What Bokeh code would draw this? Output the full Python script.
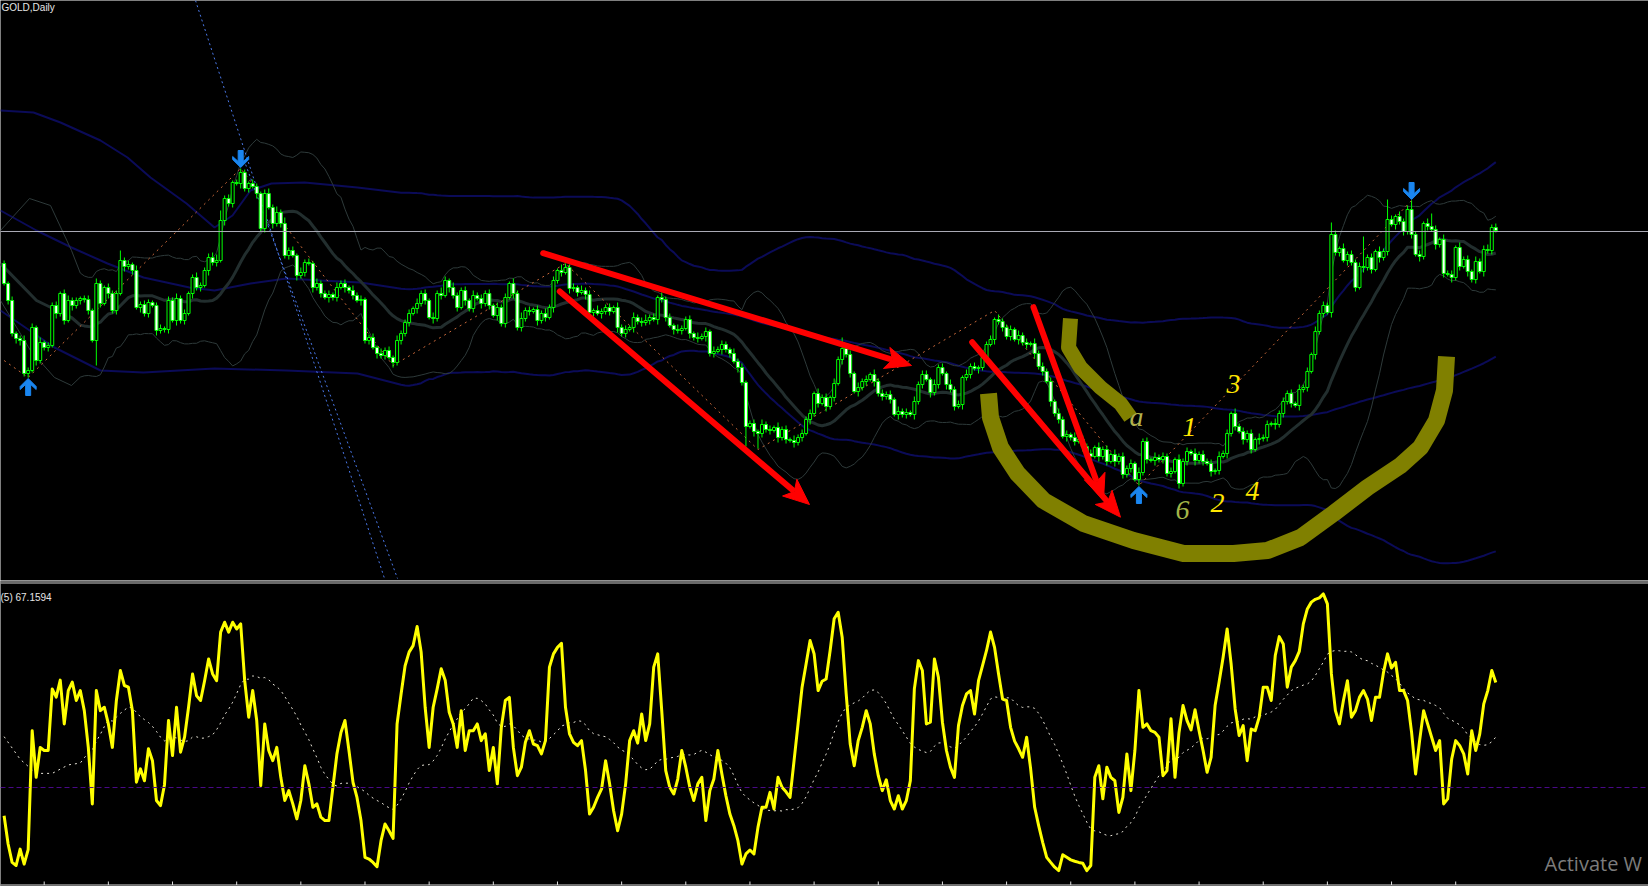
import numpy as np
import pandas as pd
from bokeh.plotting import figure
from bokeh.layouts import column
from bokeh.models import Range1d, Span
from bokeh.core.properties import value
from bokeh.embed import file_html
from bokeh.resources import INLINE

# ---------------- data (GOLD, Daily) ----------------
OPEN0 = 1837
CLOSE = [
 1817,1800,1767,1762,1760,1727,1730,1773,1740,1758,
 1753,1755,1795,1787,1807,1780,1800,1795,1800,1802,
 1801,1790,1760,1817,1797,1813,1807,1790,1807,1840,
 1834,1836,1830,1793,1796,1787,1798,1795,1770,1772,
 1771,1800,1780,1802,1780,1787,1807,1823,1813,1815,
 1830,1843,1838,1840,1880,1902,1897,1918,1917,1928,
 1912,1917,1914,1907,1872,1907,1893,1877,1888,1877,
 1845,1850,1845,1825,1828,1838,1837,1813,1817,1807,
 1803,1806,1803,1813,1817,1813,1810,1805,1800,1801,
 1760,1763,1753,1747,1745,1750,1743,1738,1760,1767,
 1778,1787,1792,1797,1807,1800,1783,1782,1807,1805,
 1820,1813,1805,1793,1810,1800,1792,1805,1802,1797,
 1807,1795,1785,1793,1777,1803,1817,1807,1773,1782,
 1790,1789,1791,1780,1787,1783,1793,1820,1830,1828,
 1833,1812,1813,1808,1810,1806,1788,1790,1787,1789,
 1793,1789,1793,1773,1767,1771,1773,1783,1779,1778,
 1780,1783,1781,1803,1801,1783,1775,1771,1770,1772,
 1781,1767,1763,1762,1764,1769,1747,1749,1751,1756,
 1751,1747,1739,1733,1718,1674,1677,1669,1667,1676,
 1671,1670,1673,1663,1671,1661,1660,1658,1663,1667,
 1681,1687,1707,1697,1703,1694,1703,1717,1741,1752,
 1746,1727,1709,1713,1719,1721,1726,1719,1707,1704,
 1706,1701,1686,1689,1686,1688,1686,1699,1716,1726,
 1721,1708,1716,1733,1727,1716,1711,1694,1696,1723,
 1726,1734,1732,1733,1743,1756,1761,1781,1779,1773,
 1764,1771,1761,1765,1758,1756,1757,1747,1734,1729,
 1719,1699,1687,1681,1664,1666,1663,1659,1661,1654,
 1647,1644,1653,1644,1651,1639,1646,1639,1644,1626,
 1632,1637,1621,1628,1659,1641,1640,1643,1641,1644,
 1627,1629,1641,1617,1639,1649,1647,1640,1646,1639,
 1637,1629,1630,1644,1647,1667,1687,1674,1669,1661,
 1667,1651,1661,1662,1663,1676,1677,1676,1687,1699,
 1707,1697,1695,1711,1713,1729,1746,1769,1787,1795,
 1788,1866,1848,1852,1840,1846,1838,1813,1834,1833,
 1843,1831,1849,1843,1849,1881,1876,1884,1879,1869,
 1891,1866,1846,1844,1877,1874,1871,1856,1861,1827,
 1826,1823,1853,1834,1841,1829,1821,1839,1829,1851,
 1850,1873,1870]

# wick lengths (one base-36 digit per candle)
WICK_UP = ("3242353425" "2334245332" "342532433a" "3425343234" "2435342353"
           "3456a34234" "3243245363" "6342534253" "3425342534" "2342534253"
           "3425342536" "4253342534" "3425342536" "3424353426" "4342534253"
           "3425342534" "6342534253" "3425342534" "3253423425" "3425342534"
           "342534253b" "3425342534" "3425342534" "4253425342" "5342534253"
           "3425342534" "3425342534" "3425342534" "3425342534" "3425342534"
           "3425342534" "3425342534" "3425342534" "3c4253434u" "34253k4253"
           "493425d425" "3425342534" "534")
WICK_DN = ("2435534253" "3425342534" "342p425342" "5342534253" "3425342534"
           "2534253425" "3425342534" "3425342534" "2534253425" "3425342534"
           "3425342534" "2534253425" "3425342534" "3425342534" "2534253425"
           "3425342534" "3425342534" "2534253425" "34253k25f4" "3425342534"
           "2534253425" "3425342534" "3425342534" "2534253425" "3425342534"
           "3425342534" "2534253425" "3425342534" "3426342534" "3425342534"
           "2534253425" "3425342534" "3425342534" "2534253425" "3425342534"
           "3425342534" "2534253425" "342")

# oscillator (5), one value per candle
OSC = [
 20,10.0,3.5,2.4,8.2,2.9,8,50.1,33.6,44.2,
 43.1,43.1,64.9,62,68,52.5,64.3,67.3,60.8,64.3,
 57.2,44.2,24.2,64.3,57.2,58.4,52.5,44.2,60.8,71.4,
 66.1,65.5,57.2,31.9,36.6,32.4,43.7,39.5,25.4,23.6,
 31,53.7,41.3,58.4,42.5,47.8,58.4,70.2,62.5,60.8,
 67.8,75.5,70.2,67.8,85,88.5,85,88.5,86.1,87.9,
 67.8,54.9,64.3,53.7,30.7,52.5,43.1,39.5,44.2,33.6,
 25.4,28.9,24.2,18.9,25.4,37.7,31.3,23.0,24.2,19.5,
 18.3,18.3,30.1,41.9,49.5,53.7,43.1,31.9,26.5,18.3,
 5.3,4.7,3.5,2.0,11.2,17.1,14.7,12,52.5,63.1,
 73.1,77.9,80.2,87,78,58.4,44.2,58.4,64.9,72,
 68,56.6,52.5,44.2,57.2,43.1,50.1,50.1,52.5,46.6,
 49.0,36.0,44.2,31.3,51.3,60.8,61.9,44.2,34.2,37.2,
 46.0,50.1,45.4,44.8,41.9,46.6,72.6,77.3,79.6,81.0,
 58.4,49.0,46.0,44.8,46.6,36.0,20.6,23.0,26.5,29.5,
 39.5,31.3,21.8,14.7,20.6,31.3,46.6,50.1,45.7,56.0,
 46.6,52.5,72.6,77.3,57.2,36.0,30.1,27.7,33.0,43.1,
 37.2,30.1,25.4,31.3,33.6,18.3,28.9,33.0,43.1,34.8,
 27.1,20.6,16.5,11.2,2.9,6.5,7.9,6.5,15.9,23.0,
 23.0,28.3,22.4,33.6,30.1,28.5,26.5,39.5,52.5,65.5,
 73.7,82.0,77.3,64.3,67.6,68.4,78.5,89.7,92.0,83.2,
 63.1,45.4,37.7,46.6,51.3,57.2,52.5,41.9,34.2,28.9,
 32.7,25.4,22.4,27.1,22.4,25.4,32.4,64.9,74.9,71.4,
 52.5,53.1,75.5,69.0,53.1,43.1,37.2,33.6,51.9,59.0,
 63.1,64.3,56.0,67.8,73.1,78.5,85.0,79.6,70.2,61.3,
 60.8,51.3,46.4,43.7,40.7,47.8,36.6,23.0,16.5,10.6,
 5.3,3.5,1.8,0.6,6.2,5.3,4.4,3.9,3.5,3.2,
 0.6,2.4,33.6,37.7,26.0,37.2,33.6,32.4,21.2,26.5,
 41.9,28.9,43.1,64.3,51.3,52.5,50.1,49.5,47.8,34.2,
 36.0,54.3,33.6,49.5,59.0,53.7,50.4,57.5,50.1,43.1,
 35.4,40.7,59.0,67.3,76.1,86.1,73.7,57.8,48.4,51.9,
 39.5,50.7,50.1,54.9,65.5,65.5,60.8,76.7,83.4,80.8,
 65.5,72.6,74.9,78.2,87.9,93.2,95.6,96.6,97.1,98.5,
 95,70.2,57.2,52.5,60.8,67.8,54.9,57.2,61.9,64.3,
 61.3,53.7,61.9,61.9,70.8,77.3,72.3,74.3,64.3,64.3,
 60.8,49.5,34.8,46.6,57.2,52.5,47.8,43.1,46.6,24.2,
 26.0,40.1,46.6,44.8,41.9,34.8,50.1,43.1,49.0,59.6,
 64.3,71.4,67.16]
# early part of the signal line (before 20 values are available)
SIG_EARLY_IDX = [0, 4, 8, 12, 16]
SIG_EARLY_VAL = [48, 40, 35, 35, 38]
OSC_LEVEL = 30
CURRENT_PRICE = 1869

# zigzag swing points (candle index, price)
ZZ_IDX = [0, 6, 59, 97, 140, 188, 247, 283, 351]
ZZ_PRICE = [1740, 1723, 1932, 1735, 1837, 1651, 1790, 1615, 1900]
# fractal arrows
ARROW_IDX = [6, 59, 283, 351]
ARROW_DIR = ["up", "down", "up", "down"]
# time-axis tick marks every 16 candles
TICK_IDX = list(range(10, 373, 16))

# early part of the long (100) and short (20) bands (screen px)
NAVY_UP_EX = [0, 33, 60, 100, 127, 150, 186, 214, 232, 250, 271, 304, 357]
NAVY_UP_EY = [110, 112, 122, 140, 157, 177, 203, 227, 215, 190, 183, 182, 187]
NAVY_MID_EX = [0, 36, 71, 107, 143, 189, 214, 250, 286, 321, 360]
NAVY_MID_EY = [210, 230, 247, 263, 277, 287, 290, 283, 278, 280, 282]
NAVY_LO_EX = [0, 54, 100, 143, 214, 286, 357]
NAVY_LO_EY = [310, 347, 370, 372, 368, 370, 373]
GRAY_UP_EX = [0, 29, 50, 71]
GRAY_UP_EY = [230, 198, 205, 250]
GRAY_MID_EX = [0, 36, 71]
GRAY_MID_EY = [263, 300, 317]
GRAY_LO_EX = [0, 30, 54, 71]
GRAY_LO_EY = [300, 350, 377, 385]

# hand drawn objects (screen px)
TL_X = [[195, 384], [240, 397]]
TL_Y = [[0, 578], [150, 578]]
RED_START = [(542.7, 252.7), (559.3, 291), (971.7, 341.7), (1033, 306.7)]
RED_TIP = [(911, 365), (809, 504), (1120, 516.7), (1103, 500)]
ARC_BIG_X = [988, 990, 1000, 1017, 1043, 1083, 1133, 1183, 1233, 1267, 1300, 1333, 1367, 1400, 1420, 1436, 1444, 1446]
ARC_BIG_Y = [393, 417, 447, 473, 500, 523, 540, 553, 553, 550, 537, 513, 487, 465, 447, 420, 390, 356]
ARC_SMALL_X = [1070, 1068, 1080, 1100, 1120, 1130]
ARC_SMALL_Y = [318, 347, 367, 387, 403, 417]
LABEL_TEXT = ["a", "1", "3", "2", "4", "6"]
LABEL_X = [1136, 1189, 1233, 1217, 1252, 1182]
LABEL_Y = [416, 426, 383, 502, 490, 509]
LABEL_COLOR = ["#b3b34c", "#ffe600", "#ffe600", "#ffe600", "#ffe600", "#a3b548"]

# ---------------- geometry ----------------
N = len(CLOSE)
X0_PX, XN_PX = 3.6, 1495.3
DX_PX = (XN_PX - X0_PX) / (N - 1)


def fx(xp):
    return (np.asarray(xp, dtype=float) - X0_PX) / DX_PX


def fy(yp):
    return 2100.0 - np.asarray(yp, dtype=float)


def fv(yp):
    return (871.8 - np.asarray(yp, dtype=float)) / 2.826


idx = np.arange(N)
close = np.array(CLOSE, dtype=float)
opn = np.concatenate([[OPEN0], close[:-1]])
wu = np.array([int(c, 36) for c in WICK_UP[:N]], dtype=float)
wl = np.array([int(c, 36) for c in WICK_DN[:N]], dtype=float)
high = np.maximum(opn, close) + wu
low = np.minimum(opn, close) - wl

s = pd.Series(close)
ma20 = s.rolling(20).mean().values
sd20 = s.rolling(20).std(ddof=0).values
ma100 = s.rolling(100).mean().values
sd100 = s.rolling(100).std(ddof=0).values

W = 1648
TOP_H = 580
BOT_H = 306
xr = Range1d(float(fx(0)), float(fx(W)))


def base(h, yr):
    p = figure(width=W, height=h, x_range=xr, y_range=yr, output_backend="svg",
               toolbar_location=None, x_axis_location=None, y_axis_location=None,
               background_fill_color="black", border_fill_color="black",
               min_border=0, outline_line_color=None)
    p.grid.visible = False
    return p


top = base(TOP_H, Range1d(float(fy(TOP_H)), float(fy(0))))

top.add_layout(Span(location=CURRENT_PRICE, dimension="width", line_color="#a9a9b4", line_width=1))


def band(ex, ey, vals, start):
    xs = list(fx(ex)) + list(idx[start:])
    ys = list(fy(ey)) + list(vals[start:])
    return xs, ys


NAVY = "#0b0b58"
for ex, ey, vals in [(NAVY_UP_EX, NAVY_UP_EY, ma100 + 2 * sd100),
                     (NAVY_MID_EX, NAVY_MID_EY, ma100),
                     (NAVY_LO_EX, NAVY_LO_EY, ma100 - 2 * sd100)]:
    xs, ys = band(ex, ey, vals, 99)
    top.line(xs, ys, line_color=NAVY, line_width=2)

xs, ys = band(GRAY_MID_EX, GRAY_MID_EY, ma20, 19)
top.line(xs, ys, line_color="#222e2e", line_width=3)
for ex, ey, vals in [(GRAY_UP_EX, GRAY_UP_EY, ma20 + 2 * sd20),
                     (GRAY_LO_EX, GRAY_LO_EY, ma20 - 2 * sd20)]:
    xs, ys = band(ex, ey, vals, 19)
    top.line(xs, ys, line_color="#2e3a3a", line_width=1)

top.line(ZZ_IDX, ZZ_PRICE, line_color="#c8683a", line_width=1, line_dash="2 4")
top.multi_line([list(fx(x)) for x in TL_X], [list(fy(y)) for y in TL_Y],
               line_color="#4a78e8", line_width=1, line_dash="2 3")

# candles
top.segment(x0=idx, y0=low, x1=idx, y1=high, line_color="#00ff00", line_width=1)
fill = ["black" if c > o else "white" for o, c in zip(opn, close)]
top.vbar(x=idx, top=np.maximum(opn, close), bottom=np.minimum(opn, close), width=0.75,
         fill_color=fill, line_color="#00ff00", line_width=1)

# fractal arrows
SHAPE_DX = [0, 8, 8, 2.5, 2.5, -2.5, -2.5, -8, -8]
SHAPE_DY = [0, 8, 11, 6, 17, 17, 6, 11, 8]
axs, ays = [], []
for i, d in zip(ARROW_IDX, ARROW_DIR):
    if d == "up":
        tip = low[i] - 1
        ays.append([tip - v for v in SHAPE_DY])
    else:
        tip = high[i] + 1
        ays.append([tip + v for v in SHAPE_DY])
    axs.append([i + v / DX_PX for v in SHAPE_DX])
top.patches(axs, ays, fill_color="#1a86f0", line_color="#1a86f0", line_width=1)

# olive arcs
top.line(list(fx(ARC_BIG_X)), list(fy(ARC_BIG_Y)), line_color="#808000", line_width=17,
         line_join="round", line_cap="butt")
top.line(list(fx(ARC_SMALL_X)), list(fy(ARC_SMALL_Y)), line_color="#808000", line_width=15,
         line_join="round", line_cap="butt")

# red arrows
HL, HW = 26.0, 11.0
sx0, sy0, sx1, sy1, hxs, hys = [], [], [], [], [], []
for (sx, sy), (tx, ty) in zip(RED_START, RED_TIP):
    dx, dy = tx - sx, ty - sy
    L = (dx * dx + dy * dy) ** 0.5
    ux, uy = dx / L, dy / L
    nx, ny = -uy, ux
    bx, by = tx - HL * ux, ty - HL * uy
    sx0.append(float(fx(sx))); sy0.append(float(fy(sy)))
    sx1.append(float(fx(bx + 3 * ux))); sy1.append(float(fy(by + 3 * uy)))
    pts = [(tx, ty), (bx + HW * nx, by + HW * ny), (bx + 6 * ux, by + 6 * uy), (bx - HW * nx, by - HW * ny)]
    hxs.append([float(fx(p[0])) for p in pts])
    hys.append([float(fy(p[1])) for p in pts])
top.segment(x0=sx0, y0=sy0, x1=sx1, y1=sy1, line_color="#ff0000", line_width=6, line_cap="round")
top.patches(hxs, hys, fill_color="#ff0000", line_color="#ff0000", line_width=1)

top.text(x=list(fx(LABEL_X)), y=list(fy(LABEL_Y)), text=LABEL_TEXT, text_color=LABEL_COLOR,
         text_font=value("Liberation Serif"), text_font_style="italic", text_font_size="28px",
         text_align="center", text_baseline="middle")

top.text(x=[float(fx(1))], y=[float(fy(1))], text=["GOLD,Daily"], text_color="#e6e6e6",
         text_font=value("Liberation Sans"), text_font_size="10px",
         text_align="left", text_baseline="top")

# ---------------- oscillator panel ----------------
bot = base(BOT_H, Range1d(float(fv(TOP_H + BOT_H)), float(fv(TOP_H))))
bot.add_layout(Span(location=float(fv(580.5)), dimension="width", line_color="#d4d4d4", line_width=1))
bot.add_layout(Span(location=float(fv(582.5)), dimension="width", line_color="#d4d4d4", line_width=1))
bot.add_layout(Span(location=OSC_LEVEL, dimension="width", line_color="#4b0a8a", line_width=1, line_dash="5 3"))
sig = pd.Series(OSC).rolling(20).mean().values
sig_x = SIG_EARLY_IDX + list(idx[19:])
sig_y = SIG_EARLY_VAL + list(sig[19:])
bot.line(sig_x, sig_y, line_color="#e8e4d8", line_width=1, line_dash="2 4")
bot.line(idx, OSC, line_color="#ffff00", line_width=3, line_join="round")

# bottom time scale line with ticks
bot.add_layout(Span(location=float(fv(884.5)), dimension="width", line_color="#e0e0e0", line_width=1))
bot.segment(x0=TICK_IDX, y0=[float(fv(884.5))] * len(TICK_IDX),
            x1=TICK_IDX, y1=[float(fv(881))] * len(TICK_IDX), line_color="#e0e0e0", line_width=1)

bot.text(x=[float(fx(0))], y=[float(fv(591))], text=["(5) 67.1594"], text_color="#e6e6e6",
         text_font=value("Liberation Sans"), text_font_size="10px",
         text_align="left", text_baseline="top")
bot.text(x=[float(fx(1544))], y=[float(fv(849))], text=["Activate W"], text_color="#7c7c7c",
         text_font=value("Open Sans"), text_font_size="20px",
         text_align="left", text_baseline="top")

layout = column(top, bot, spacing=0)
open("out.html", "w").write(file_html(layout, INLINE))
